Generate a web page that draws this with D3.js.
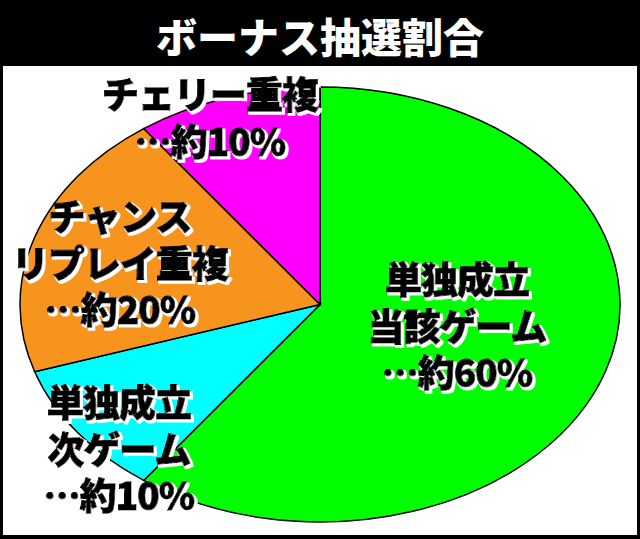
<!DOCTYPE html>
<html><head><meta charset="utf-8">
<script src="https://cdn.jsdelivr.net/npm/d3@7"></script>
<style>
html,body{margin:0;padding:0;background:#fff;}
svg{display:block;}
text{font-family:"Noto Sans CJK JP","Noto Sans",sans-serif;font-weight:900;}
</style></head>
<body>
<script>
const title = "ボーナス抽選割合";
const categories = ["単独成立当該ゲーム", "単独成立次ゲーム", "チャンスリプレイ重複", "チェリー重複"];
const values = [60, 10, 20, 10];
const colors = ["#00ff00", "#00ffff", "#f7941d", "#ff00ff"];
const labelLines = [
  ["単独成立", "当該ゲーム", "…約60%"],
  ["単独成立", "次ゲーム", "…約10%"],
  ["チャンス", "リプレイ重複", "…約20%"],
  ["チェリー重複", "…約10%"]
];

const W = 640, H = 539;
const cx = 320, cy = 304.5, rx = 300, ry = 217.5;
const labelPos = [[457, 278], [119, 401], [120, 215], [210, 93]];
const lineH = 46.5;

const svg = d3.select("body").append("svg").attr("width", W).attr("height", H);

const defs = svg.append("defs");
const f = defs.append("filter").attr("id", "wshadow").attr("x", "-10%").attr("y", "-20%").attr("width", "130%").attr("height", "150%");
f.append("feMorphology").attr("in", "SourceAlpha").attr("operator", "dilate").attr("radius", 0.8).attr("result", "dil");
f.append("feOffset").attr("in", "dil").attr("dx", 1.6).attr("dy", 1.6).attr("result", "off");
f.append("feFlood").attr("flood-color", "#fff").attr("result", "wh");
f.append("feComposite").attr("in", "wh").attr("in2", "off").attr("operator", "in").attr("result", "sh");
const m = f.append("feMerge");
m.append("feMergeNode").attr("in", "sh");
m.append("feMergeNode").attr("in", "SourceGraphic");

// frame
svg.append("rect").attr("x", 0).attr("y", 0).attr("width", W).attr("height", H).attr("fill", "#000");
svg.append("rect").attr("x", 3).attr("y", 66).attr("width", W - 6).attr("height", H - 66 - 4).attr("fill", "#fff");

svg.append("text").attr("x", W / 2).attr("y", 35).attr("text-anchor", "middle")
  .attr("dominant-baseline", "central").attr("fill", "#fff").attr("font-size", 41).text(title);

const pie = d3.pie().sort(null).value(d => d)(values);
const arc = d3.arc().innerRadius(0).outerRadius(ry);

const g = svg.append("g").attr("transform", `translate(${cx},${cy}) scale(${rx / ry},1)`);
g.selectAll("path").data(pie).join("path")
  .attr("d", arc)
  .attr("fill", (d, i) => colors[i])
  .attr("stroke", "#000").attr("stroke-width", 1.5)
  .attr("vector-effect", "non-scaling-stroke");

const lg = svg.append("g");
labelLines.forEach((lines, i) => {
  const [lx, ly] = labelPos[i];
  lines.forEach((s, j) => {
    lg.append("text").attr("x", lx).attr("y", ly + j * lineH)
      .attr("text-anchor", "middle").attr("dominant-baseline", "central")
      .attr("font-size", 37).attr("letter-spacing", -1)
      .attr("fill", "#000").attr("stroke", "#000").attr("stroke-width", 0.9)
      .attr("filter", "url(#wshadow)").text(s);
  });
});
</script>
</body></html>
